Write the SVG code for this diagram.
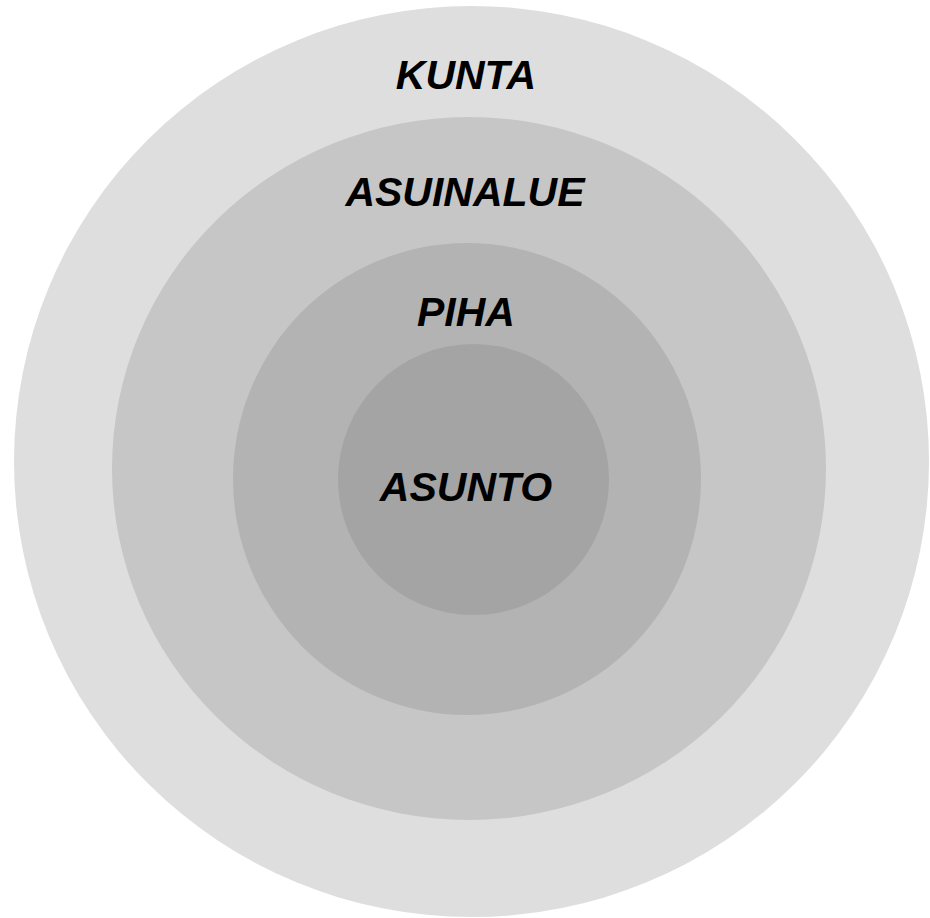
<svg xmlns="http://www.w3.org/2000/svg" width="930" height="918" viewBox="0 0 930 918">
<style>
.lbl{font-family:"Liberation Sans",Arial,sans-serif;font-weight:bold;font-style:italic;font-size:41px;fill:#000;text-anchor:middle}
</style>
<rect width="930" height="918" fill="#fff"/>
<g id="kunta"><ellipse cx="471.5" cy="461.5" rx="457.5" ry="455.5" fill="#DEDEDE"/><text class="lbl" x="466" y="89">KUNTA</text></g>
<g id="asuinalue"><ellipse cx="469" cy="468.5" rx="357" ry="351.5" fill="#C6C6C6"/><text class="lbl" x="465" y="206">ASUINALUE</text></g>
<g id="piha"><ellipse cx="467" cy="479" rx="234" ry="236" fill="#B3B3B3"/><text class="lbl" x="466" y="326">PIHA</text></g>
<g id="asunto"><circle cx="473.5" cy="479.5" r="135.5" fill="#A4A4A4"/><text class="lbl" x="466" y="501">ASUNTO</text></g>
<g id="connectors"/>
</svg>
